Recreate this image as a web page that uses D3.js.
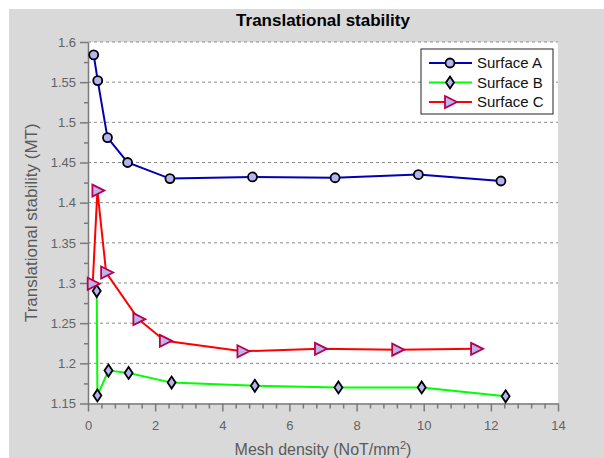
<!DOCTYPE html>
<html>
<head>
<meta charset="utf-8">
<script src="https://cdn.jsdelivr.net/npm/d3@7"></script>
<style>
  body { margin: 0; background: #fff; }
  text { font-family: Arial, "Liberation Sans", sans-serif; }
</style>
</head>
<body>
<div id="chart"></div>
<script>
let width = 604,
    height = 458;

let margin = { top: 42, right: 46, bottom: 54.5, left: 88 };

// data
let seriesNames = ["Surface A", "Surface B", "Surface C"];
let xA = [0.17, 0.29, 0.58, 1.18, 2.44, 4.90, 7.36, 9.84, 12.30];
let yA = [1.584, 1.552, 1.481, 1.450, 1.430, 1.432, 1.431, 1.435, 1.427];
let xB = [0.26, 0.28, 0.61, 1.21, 2.49, 4.97, 7.46, 9.94, 12.44];
let yB = [1.290, 1.160, 1.191, 1.188, 1.176, 1.172, 1.170, 1.170, 1.159];
let xC = [0.14, 0.28, 0.54, 1.50, 2.29, 4.60, 6.91, 9.21, 11.56];
let yC = [1.299, 1.415, 1.313, 1.255, 1.228, 1.215, 1.218, 1.217, 1.218];

let xTicks = [0, 2, 4, 6, 8, 10, 12, 14];
let yTicks = [1.15, 1.2, 1.25, 1.3, 1.35, 1.4, 1.45, 1.5, 1.55, 1.6];

let svg = d3.select("#chart")
    .append("svg")
    .attr("width", width)
    .attr("height", height);

// grey figure background
svg.append("rect")
    .attr("x", 9).attr("y", 9)
    .attr("width", width - 9).attr("height", height - 9)
    .attr("fill", "#d9d9d9");

let x = d3.scaleLinear()
    .domain([0, 14])
    .range([margin.left, width - margin.right]);

let y = d3.scaleLinear()
    .domain([1.15, 1.6])
    .range([height - margin.bottom, margin.top]);

// plot area
svg.append("rect")
    .attr("x", x(0)).attr("y", y(1.6))
    .attr("width", x(14) - x(0)).attr("height", y(1.15) - y(1.6))
    .attr("fill", "#fff");

// dashed grid
svg.append("g")
    .selectAll("line")
    .data(yTicks.slice(1))
    .enter()
    .append("line")
    .attr("x1", x(0)).attr("x2", x(14))
    .attr("y1", d => y(d)).attr("y2", d => y(d))
    .attr("stroke", "#8a8a8a")
    .attr("stroke-width", 1)
    .attr("stroke-dasharray", "3,3");

let axisColor = "#7a7a7a";
let labelColor = "#636363";

// x axis
let xAxis = svg.append("g")
    .attr("transform", `translate(0, ${y(1.15)})`)
    .call(d3.axisBottom(x).tickValues(xTicks).tickSize(8).tickPadding(5).tickSizeOuter(0));

let xMinor = d3.range(0, 14.01, 0.4).map(d => +d.toFixed(1)).filter(d => d % 2 !== 0);
svg.append("g")
    .attr("transform", `translate(0, ${y(1.15)})`)
    .call(d3.axisBottom(x).tickValues(xMinor).tickSize(5).tickFormat("").tickSizeOuter(0))
    .select(".domain").remove();

// y axis
let yAxis = svg.append("g")
    .attr("transform", `translate(${x(0)}, 0)`)
    .call(d3.axisLeft(y).tickValues(yTicks).tickSize(8).tickPadding(4).tickSizeOuter(0)
        .tickFormat(d => String(+d.toFixed(2))));

let yMinor = d3.range(1.175, 1.6, 0.05);
svg.append("g")
    .attr("transform", `translate(${x(0)}, 0)`)
    .call(d3.axisLeft(y).tickValues(yMinor).tickSize(4).tickFormat("").tickSizeOuter(0))
    .select(".domain").remove();

svg.selectAll(".domain, .tick line")
    .attr("stroke", axisColor)
    .attr("stroke-width", 1.5);
svg.selectAll(".tick text")
    .attr("fill", labelColor)
    .style("font-size", "13px")
    .style("font-family", "Arial, 'Liberation Sans', sans-serif");
xAxis.selectAll(".tick text").attr("dy", "1em");

// lines and markers
let series = [
    { name: seriesNames[0], xs: xA, ys: yA, color: "#0000b4", marker: "circle", mstroke: "#000" },
    { name: seriesNames[1], xs: xB, ys: yB, color: "#00ff00", marker: "diamond", mstroke: "#000" },
    { name: seriesNames[2], xs: xC, ys: yC, color: "#ff0000", marker: "triangle", mstroke: "#b8004c" }
];

let line = d3.line()
    .x(d => x(d[0]))
    .y(d => y(d[1]));

function drawMarker(g, type, stroke) {
    if (type === "circle") {
        g.append("circle").attr("r", 4.5)
            .attr("fill", "#b4b4f0").attr("stroke", stroke).attr("stroke-width", 1.8);
    } else if (type === "diamond") {
        g.append("path").attr("d", "M0,-6L4,0L0,6L-4,0Z")
            .attr("fill", "#b4b4f0").attr("stroke", stroke).attr("stroke-width", 1.8);
    } else {
        g.append("path").attr("d", "M-5,-6L7,0L-5,6Z")
            .attr("fill", "#bcb4f0").attr("stroke", stroke).attr("stroke-width", 1.8);
    }
}

series.forEach(function (s) {
    let pts = s.xs.map((v, i) => [v, s.ys[i]]);
    svg.append("path")
        .datum(pts)
        .attr("fill", "none")
        .attr("stroke", s.color)
        .attr("stroke-width", 2)
        .attr("d", line);
    pts.forEach(function (p) {
        let g = svg.append("g").attr("transform", `translate(${x(p[0])}, ${y(p[1])})`);
        drawMarker(g, s.marker, s.mstroke);
    });
});

// legend
let legend = svg.append("g").attr("transform", "translate(421, 49)");
legend.append("rect")
    .attr("width", 132).attr("height", 65)
    .attr("fill", "#fff")
    .attr("stroke", "#222")
    .attr("stroke-width", 1);

series.forEach(function (s, i) {
    let row = legend.append("g").attr("transform", `translate(0, ${14 + i * 19.5})`);
    row.append("line")
        .attr("x1", 8).attr("x2", 51)
        .attr("stroke", s.color).attr("stroke-width", 2);
    drawMarker(row.append("g").attr("transform", "translate(29, 0)"), s.marker, s.mstroke);
    row.append("text")
        .attr("x", 56).attr("y", 5)
        .style("font-size", "15px")
        .attr("fill", "#111")
        .text(s.name);
});

// title and axis labels
svg.append("text")
    .attr("x", (x(0) + x(14)) / 2).attr("y", 26)
    .style("text-anchor", "middle")
    .style("font-size", "17px")
    .style("font-weight", "bold")
    .text("Translational stability");

svg.append("text")
    .attr("transform", `translate(37, ${(y(1.15) + y(1.6)) / 2}) rotate(-90)`)
    .style("text-anchor", "middle")
    .style("font-size", "17px")
    .attr("fill", "#5a5a5a")
    .text("Translational stability (MT)");

let xl = svg.append("text")
    .attr("x", (x(0) + x(14)) / 2).attr("y", 455)
    .style("text-anchor", "middle")
    .style("font-size", "16px")
    .attr("fill", "#5a5a5a");
xl.append("tspan").text("Mesh density (NoT/mm");
xl.append("tspan").attr("dy", -6).style("font-size", "11px").text("2");
xl.append("tspan").attr("dy", 6).text(")");
</script>
</body>
</html>
